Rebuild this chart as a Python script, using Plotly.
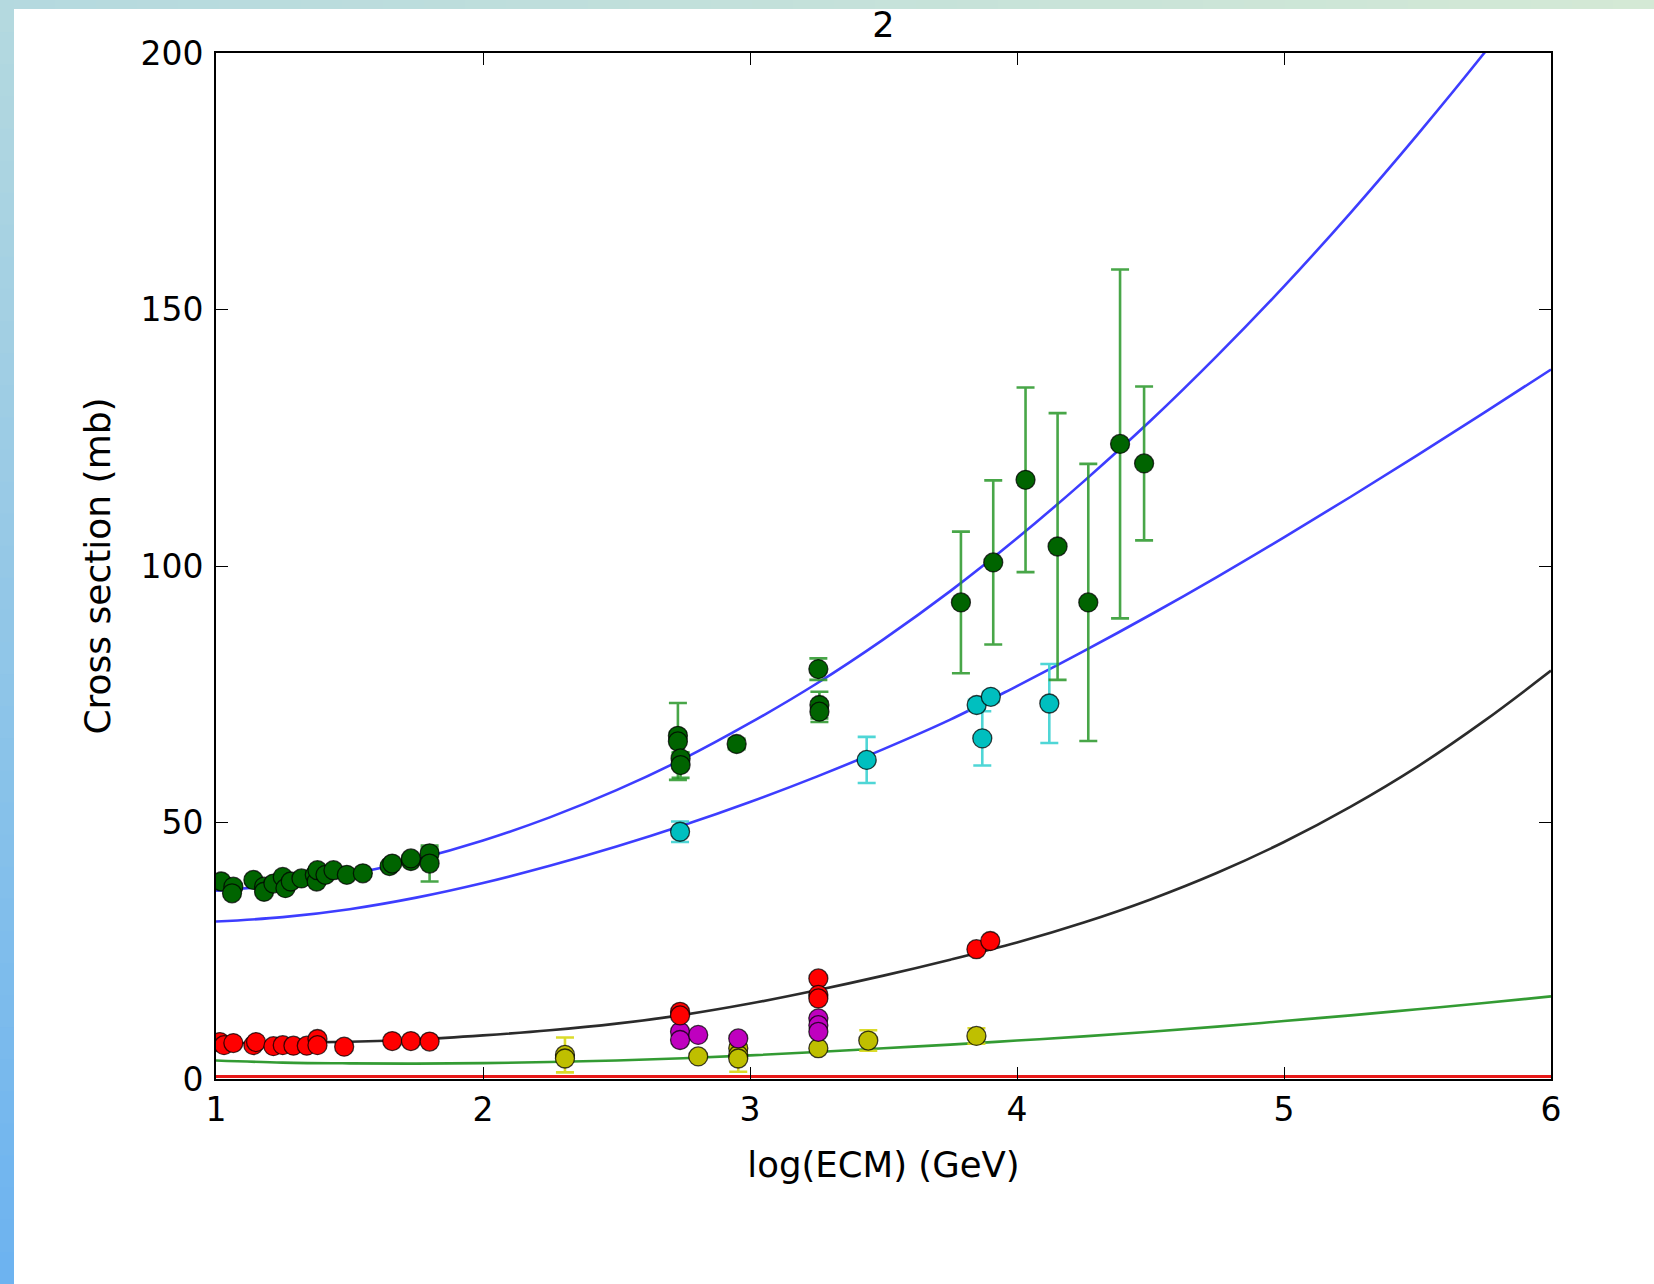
import plotly.graph_objects as go

# ---------------- data ----------------
# fitted curves
curve_x = [1.0, 1.25, 1.5, 1.75, 2.0, 2.25, 2.5, 2.75, 3.0, 3.25, 3.5, 3.75, 4.0,
           4.25, 4.5, 4.75, 5.0, 5.25, 5.5, 5.75, 6.0]
upper_blue = [36.7, 37.9, 39.9, 42.8, 46.5, 51.0, 56.3, 62.4, 69.4, 77.1, 85.7, 95.1, 105.4,
              116.5, 128.3, 141.0, 154.5, 168.9, 184.1, 200.0, 216.8]
lower_blue = [30.7, 31.55, 33.1, 35.35, 38.2, 41.55, 45.3, 49.45, 54.0, 58.95, 64.3, 70.05, 76.6,
              83.4, 90.5, 97.9, 105.6, 113.5, 121.6, 129.9, 138.3]
black_curve = [7.0, 7.05, 7.25, 7.7, 8.5, 9.5, 10.8, 12.5, 14.7, 17.3, 20.15, 23.25, 26.6,
               30.5, 35.0, 40.2, 46.2, 53.1, 60.9, 69.8, 79.6]
green_curve = [3.6, 3.2, 3.05, 3.0, 3.1, 3.3, 3.6, 4.05, 4.6, 5.25, 6.0, 6.7, 7.5,
               8.3, 9.2, 10.2, 11.3, 12.4, 13.6, 14.8, 16.1]
red_line_x = [1.0, 6.0]
red_line_y = [0.5, 0.5]

# dark green points (total)
tot_x = [1.02, 1.065, 1.06, 1.14, 1.18, 1.18, 1.215, 1.25, 1.26, 1.28, 1.32, 1.37, 1.377,
         1.38, 1.41, 1.44, 1.49, 1.55, 1.65, 1.66, 1.73, 1.73, 1.80, 1.80,
         2.73, 2.73, 2.74, 2.74, 2.95, 3.256, 3.26, 3.26,
         3.79, 3.911, 4.032, 4.152, 4.267, 4.386, 4.476]
tot_y = [38.5, 37.5, 36.2, 38.8, 37.5, 36.5, 38.1, 39.4, 37.2, 38.5, 39.1, 39.8, 38.5,
         40.7, 39.8, 40.7, 39.8, 40.1, 41.5, 42.0, 42.5, 43.0, 44.0, 42.0,
         66.9, 65.8, 62.5, 61.2, 65.3, 79.9, 72.9, 71.6,
         92.9, 100.7, 116.8, 103.8, 92.9, 123.8, 120.0]
tot_err = [0.5, 0.5, 0.5, 0.5, 0.5, 0.5, 0.5, 0.5, 0.5, 0.5, 0.5, 0.5, 0.5,
           0.5, 0.5, 0.5, 0.5, 0.5, 0.5, 0.5, 0.5, 0.5, 1.0, 3.5,
           0.8, 7.5, 1.0, 2.5, 1.0, 2.1, 2.6, 2.0,
           13.8, 16.0, 18.0, 26.0, 27.0, 34.0, 15.0]

# cyan points
cy_x = [2.738, 3.437, 3.849, 3.870, 3.902, 4.121]
cy_y = [48.2, 62.2, 72.9, 66.4, 74.5, 73.2]
cy_err = [2.0, 4.5, 1.0, 5.3, 1.0, 7.7]

# red points
red_x = [1.015, 1.03, 1.065, 1.14, 1.15, 1.215, 1.25, 1.29, 1.34, 1.38, 1.38, 1.48,
         1.66, 1.73, 1.80, 2.738, 2.738, 3.256, 3.256, 3.256, 3.848, 3.90]
red_y = [7.2, 6.6, 7.0, 6.6, 7.2, 6.4, 6.6, 6.5, 6.5, 7.8, 6.6, 6.3,
         7.4, 7.4, 7.3, 13.1, 12.4, 19.6, 16.4, 15.7, 25.3, 26.9]

# magenta points
mag_x = [2.738, 2.738, 2.806, 2.956, 3.256, 3.256, 3.256]
mag_y = [9.2, 7.6, 8.6, 7.9, 11.8, 10.5, 9.2]

# yellow points
yel_x = [2.307, 2.307, 2.806, 2.956, 2.956, 2.956, 3.256, 3.443, 3.848]
yel_y = [4.7, 4.0, 4.4, 6.0, 4.7, 4.0, 6.0, 7.5, 8.4]
yel_err = [3.4, 0.5, 0.5, 0.5, 0.5, 2.6, 0.5, 2.0, 1.5]

x_ticks = [1, 2, 3, 4, 5, 6]
y_ticks = [0, 50, 100, 150, 200]

# ---------------- figure ----------------
W, H = 1654, 1284
L, R, T, B = 216, 1551, 53, 1079
FONT = "DejaVu Sans"

fig = go.Figure()

def curve(x, y, color):
    fig.add_trace(go.Scatter(x=x, y=y, mode="lines",
                             line=dict(color=color, width=2.6, shape="spline", smoothing=1.0),
                             hoverinfo="skip", showlegend=False))

curve(curve_x, upper_blue, "rgba(40,40,255,0.9)")
curve(curve_x, lower_blue, "rgba(40,40,255,0.9)")
curve(curve_x, black_curve, "rgba(20,20,20,0.9)")
curve(curve_x, green_curve, "rgba(40,150,40,0.95)")
fig.add_trace(go.Scatter(x=red_line_x, y=red_line_y, mode="lines",
                         line=dict(color="rgba(230,0,0,0.9)", width=3),
                         hoverinfo="skip", showlegend=False))

def pts(x, y, color, err=None, errcolor=None):
    kw = {}
    if err is not None:
        kw["error_y"] = dict(type="data", array=err, visible=True, color=errcolor,
                             thickness=2.6, width=9)
    fig.add_trace(go.Scatter(x=x, y=y, mode="markers",
                             marker=dict(size=19, color=color,
                                         line=dict(color="rgba(0,0,0,0.75)", width=1.3)),
                             showlegend=False, **kw))

pts(yel_x, yel_y, "#bfbf00", yel_err, "rgba(215,215,20,0.9)")
pts(mag_x, mag_y, "#bf00bf")
pts(red_x, red_y, "#ff0000")
pts(cy_x, cy_y, "#00bfbf", cy_err, "rgba(60,210,210,0.9)")
pts(tot_x, tot_y, "#006400", tot_err, "rgba(40,150,40,0.85)")

# background gradient strips (page decoration)
shapes = []
def px_x(X):
    return (X - L) / (R - L)
def px_y(Y):
    return (B - Y) / (B - T)
def mix(c1, c2, t):
    return "rgb(%d,%d,%d)" % tuple(round(a + (b - a) * t) for a, b in zip(c1, c2))

n = 40
top_c1, top_c2 = (181, 217, 223), (212, 233, 213)
for i in range(n):
    x0 = 14 + (W - 14) * i / n
    x1 = 14 + (W - 14) * (i + 1) / n + 1
    shapes.append(dict(type="rect", xref="paper", yref="paper",
                       x0=px_x(x0), x1=px_x(x1), y0=px_y(9), y1=px_y(0),
                       fillcolor=mix(top_c1, top_c2, (i + 0.5) / n), line=dict(width=0),
                       layer="below"))
left_c1, left_c2 = (181, 217, 223), (108, 179, 240)
for i in range(n):
    y0 = H * i / n
    y1 = H * (i + 1) / n + 1
    shapes.append(dict(type="rect", xref="paper", yref="paper",
                       x0=px_x(0), x1=px_x(14), y0=px_y(y1), y1=px_y(y0),
                       fillcolor=mix(left_c1, left_c2, (i + 0.5) / n), line=dict(width=0),
                       layer="below"))

axis_common = dict(showgrid=False, zeroline=False, showline=True, linecolor="#000000",
                   linewidth=1.8, mirror="ticks", ticks="inside", ticklen=12,
                   tickwidth=1.2, tickcolor="#000000",
                   tickfont=dict(family=FONT, size=33, color="#000000"))

fig.update_layout(
    width=W, height=H,
    margin=dict(l=L, r=W - R, t=T, b=H - B, autoexpand=False),
    paper_bgcolor="white", plot_bgcolor="white",
    font=dict(family=FONT, color="#000000"),
    title=dict(text="2", x=0.5, xref="paper", xanchor="center",
               y=1 - 25 / H, yref="container", yanchor="middle",
               font=dict(family=FONT, size=35, color="#000000")),
    xaxis=dict(range=[1, 6], tickvals=x_ticks, ticktext=[str(v) for v in x_ticks],
               title=dict(text="log(ECM) (GeV)", standoff=25,
                          font=dict(family=FONT, size=35.5, color="#000000")),
               ticklabelstandoff=0, automargin=False, **axis_common),
    yaxis=dict(range=[0, 200], tickvals=y_ticks, ticktext=[str(v) for v in y_ticks],
               title=dict(text="Cross section (mb)", standoff=19,
                          font=dict(family=FONT, size=36, color="#000000")),
               ticklabelstandoff=4, automargin=False, **axis_common),
    shapes=shapes,
)

fig.write_html("out.html", config={"displayModeBar": False},
               post_script="document.body.style.margin='0';document.body.style.overflow='hidden';")
